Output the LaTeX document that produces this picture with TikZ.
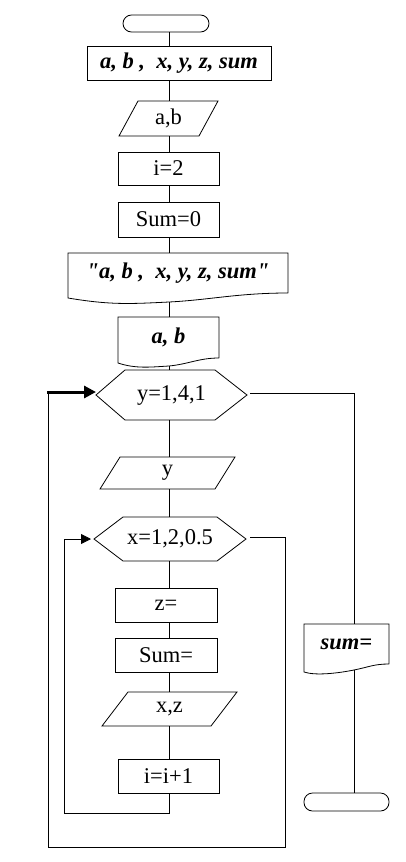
\documentclass[tikz,border=0pt]{standalone}
\usepackage{fontspec}
\setmainfont{Liberation Serif}[Ligatures=TeXOff]
\usetikzlibrary{arrows.meta,calc}
\begin{document}
\begin{tikzpicture}[x=1pt,y=-1pt,
 ln/.style={line width=0.8pt},
 txt/.style={font=\fontsize{22.5}{26}\selectfont},
 bi/.style={font=\fontsize{22.5}{26}\selectfont\bfseries\itshape},
 fr/.style={rectangle, inner sep=0pt, outer sep=0pt, minimum width=#1},
 rbox/.style={fr=#1, draw, ln},
 term/.style={rectangle, draw, ln, rounded corners=8.5pt, inner sep=0pt, outer sep=0pt, minimum width=86pt, minimum height=17pt},
 arr/.style={ln, -{Triangle[length=10pt,width=10pt]}, shorten >=3pt},
 tarr/.style={line width=3pt, -{Triangle[length=12pt,width=12pt]}}
]
\fill[white] (0,0) rectangle (405,862);
\useasboundingbox (0,0) rectangle (405,862);

% ---------- main column ----------
\node[term] (start) at (166,23.5) {};
\node[rbox=184pt, minimum height=34pt, bi] (vars) at (179,63) {a, b ,\ \ x, y, z, sum};
\node[fr=99pt, minimum height=35pt, txt] (in1) at (168.5,118.5) {a,b};
\draw[ln] ($(in1.north west)+(19,0)$) -- (in1.north east) -- ($(in1.south east)+(-19,0)$) -- (in1.south west) -- cycle;
\node[rbox=101pt, minimum height=33pt, txt] (i2) at (168.5,168.5) {i=2};
\node[rbox=101pt, minimum height=35pt, txt] (s0) at (168.5,219.5) {Sum=0};

\node[fr=220pt, minimum height=40pt, bi] (d1) at (178,273) {"a, b ,\ \ x, y, z, sum"};
\draw[ln] (d1.south east) -- (d1.north east) -- (d1.north west) -- ++(0,45)
  .. controls +(42,7) and +(-40,2) .. ++(101,4)
  .. controls +(40,-2) and +(-50,0) .. (d1.south east);

\node[fr=101pt, minimum height=41pt, bi] (d2) at (168.5,337.5) {a, b};
\draw[ln] (d2.south east) -- (d2.north east) -- (d2.north west) -- ++(0,46)
  .. controls +(18,6) and +(-18,1) .. ++(51,3)
  .. controls +(20,-2) and +(-20,0) .. (d2.south east);

\node[fr=151pt, minimum height=50pt, txt] (h1) at (171.5,395) {y=1,4,1};
\draw[ln] (h1.west) -- ($(h1.north west)+(29,0)$) -- ($(h1.north east)+(-32,0)$) -- (h1.east)
  -- ($(h1.south east)+(-32,0)$) -- ($(h1.south west)+(29,0)$) -- cycle;

\node[fr=135pt, minimum height=32pt, txt] (py) at (167.5,473) {y};
\draw[ln] ($(py.north west)+(20,0)$) -- (py.north east) -- ($(py.south east)+(-20,0)$) -- (py.south west) -- cycle;

\node[fr=152pt, minimum height=44pt, txt] (h2) at (170,539) {x=1,2,0.5};
\draw[ln] (h2.west) -- ($(h2.north west)+(29,0)$) -- ($(h2.north east)+(-29,0)$) -- (h2.east)
  -- ($(h2.south east)+(-29,0)$) -- ($(h2.south west)+(29,0)$) -- cycle;

\node[rbox=102pt, minimum height=34pt, txt] (z) at (166,605) {z=};
\node[rbox=102pt, minimum height=34pt, txt] (sm) at (166,655) {Sum=};

\node[fr=135pt, minimum height=34pt, txt] (xz) at (169.5,709) {x,z};
\draw[ln] ($(xz.north west)+(26,0)$) -- (xz.north east) -- ($(xz.south east)+(-26,0)$) -- (xz.south west) -- cycle;

\node[rbox=101pt, minimum height=34pt, txt] (inc) at (168.5,776) {i=i+1};

% ---------- right column ----------
\node[fr=85pt, minimum height=40pt, bi] (sd) at (346.5,644) {sum=};
\draw[ln] (sd.south east) -- (sd.north east) -- (sd.north west) -- ++(0,48)
  .. controls +(12,4) and +(-15,3) .. ++(50,-2)
  .. controls +(15,-3) and +(-15,0) .. (sd.south east);
\node[term, minimum width=85pt, minimum height=18pt] (stop) at (346.5,802) {};

% ---------- connectors ----------
\coordinate (ax) at (169,0);
\coordinate (rx) at (354,0);
\coordinate (d1b) at (169,302);
\coordinate (d2b) at (169,366);
\coordinate (sdb) at (354,670);
\draw[ln] (start.south -| ax) -- (vars.north -| ax);
\draw[ln] (vars.south -| ax) -- (in1.north -| ax);
\draw[ln] (in1.south -| ax) -- (i2.north -| ax);
\draw[ln] (i2.south -| ax) -- (s0.north -| ax);
\draw[ln] (s0.south -| ax) -- (d1.north -| ax);
\draw[ln] (d1b) -- (d2.north -| ax);
\draw[ln] (d2b) -- (h1.north -| ax);
\draw[ln] (h1.south -| ax) -- (py.north -| ax);
\draw[ln] (py.south -| ax) -- (h2.north -| ax);
\draw[ln] (h2.south -| ax) -- (z.north -| ax);
\draw[ln] (z.south -| ax) -- (sm.north -| ax);
\draw[ln] (sm.south -| ax) -- (xz.north -| ax);
\draw[ln] (xz.south -| ax) -- (inc.north -| ax);

% inner loop return
\coordinate (ib) at (64,813);
\draw[arr] (inc.south -| ax) |- (ib) |- (h2.west);

% outer loop return
\coordinate (h2o) at ($(h2.east)+(4,-2)$);
\coordinate (ob) at (285,847);
\coordinate (ol) at (48,847);
\coordinate (oa) at (47,392);
\draw[ln] (h2o) -| (ob) -- (ol) -- (ol |- oa);
\draw[tarr] (oa) -- (oa -| h1.west);

% loop exit
\coordinate (h1o) at ($(h1.east)+(3,-2)$);
\draw[ln] (h1o) -- (h1o -| rx) -- (sd.north -| rx);
\draw[ln] (sdb) -- (stop.north -| rx);
\end{tikzpicture}
\end{document}
